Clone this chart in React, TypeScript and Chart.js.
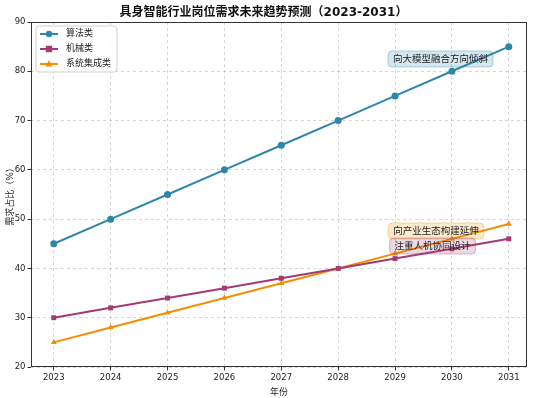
import React, { useEffect, useRef } from "react";
import { Chart, registerables } from "chart.js";

Chart.register(...registerables);

const years = [2023, 2024, 2025, 2026, 2027, 2028, 2029, 2030, 2031];
const algorithm = [45, 50, 55, 60, 65, 70, 75, 80, 85];
const mechanical = [30, 32, 34, 36, 38, 40, 42, 44, 46];
const integration = [25, 28, 31, 34, 37, 40, 43, 46, 49];
const seriesNames = ["算法类", "机械类", "系统集成类"];
const colors = ["#2E86AB", "#A23B72", "#F18F01"];
const markers = ["circle", "rect", "triangle"];
const yTicks = [20, 30, 40, 50, 60, 70, 80, 90];

const noteTexts = ["向大模型融合方向倾斜", "向产业生态构建延伸", "注重人机协同设计"];
const noteX = [2029.8, 2029.72, 2029.66];
const noteY = [82.5, 47.6, 44.55];
const noteFill = ["rgba(46,134,171,0.2)", "rgba(241,143,1,0.2)", "rgba(162,59,114,0.2)"];
const noteStroke = ["rgba(46,134,171,0.35)", "rgba(241,143,1,0.35)", "rgba(162,59,114,0.35)"];

const CJK = "'DejaVu Sans', 'Noto Sans CJK SC', sans-serif";

function roundRect(ctx: CanvasRenderingContext2D, x: number, y: number, w: number, h: number, r: number) {
  ctx.beginPath();
  ctx.moveTo(x + r, y);
  ctx.lineTo(x + w - r, y);
  ctx.quadraticCurveTo(x + w, y, x + w, y + r);
  ctx.lineTo(x + w, y + h - r);
  ctx.quadraticCurveTo(x + w, y + h, x + w - r, y + h);
  ctx.lineTo(x + r, y + h);
  ctx.quadraticCurveTo(x, y + h, x, y + h - r);
  ctx.lineTo(x, y + r);
  ctx.quadraticCurveTo(x, y, x + r, y);
  ctx.closePath();
}

function drawMarker(ctx: CanvasRenderingContext2D, kind: string, x: number, y: number, r: number, color: string) {
  ctx.fillStyle = color;
  ctx.beginPath();
  if (kind === "circle") {
    ctx.arc(x, y, r, 0, Math.PI * 2);
  } else if (kind === "rect") {
    ctx.rect(x - r, y - r, 2 * r, 2 * r);
  } else {
    ctx.moveTo(x, y - r * 1.2);
    ctx.lineTo(x + r * 1.1, y + r * 0.8);
    ctx.lineTo(x - r * 1.1, y + r * 0.8);
    ctx.closePath();
  }
  ctx.fill();
}

const decorPlugin = {
  id: "decor",
  afterDatasetsDraw(chart: any) {
    const ctx: CanvasRenderingContext2D = chart.ctx;
    const xs = chart.scales.x;
    const ys = chart.scales.y;
    ctx.save();
    ctx.font = `9.5px ${CJK}`;
    ctx.textAlign = "center";
    ctx.textBaseline = "middle";
    noteTexts.forEach((t, i) => {
      const cx = xs.getPixelForValue(noteX[i]);
      const cy = ys.getPixelForValue(noteY[i]);
      const w = ctx.measureText(t).width + 10;
      const h = 16;
      roundRect(ctx, cx - w / 2, cy - h / 2, w, h, 4);
      ctx.fillStyle = noteFill[i];
      ctx.fill();
      ctx.strokeStyle = noteStroke[i];
      ctx.lineWidth = 1;
      ctx.stroke();
      ctx.fillStyle = "#222";
      ctx.fillText(t, cx, cy + 0.5);
    });
    ctx.restore();
  },
  afterDraw(chart: any) {
    const ctx: CanvasRenderingContext2D = chart.ctx;
    const a = chart.chartArea;
    ctx.save();
    ctx.strokeStyle = "#333";
    ctx.lineWidth = 1;
    ctx.strokeRect(Math.round(a.left) + 0.5, Math.round(a.top) + 0.5, Math.round(a.right - a.left) - 1, Math.round(a.bottom - a.top) - 1);
    // legend
    const lx = a.left + 5;
    const ly = a.top + 4;
    const lw = 81;
    const lh = 46;
    roundRect(ctx, lx, ly, lw, lh, 3);
    ctx.fillStyle = "rgba(255,255,255,0.85)";
    ctx.fill();
    ctx.strokeStyle = "#d0d0d0";
    ctx.stroke();
    ctx.font = `9px ${CJK}`;
    ctx.textAlign = "left";
    ctx.textBaseline = "middle";
    seriesNames.forEach((n, i) => {
      const yy = ly + 8 + i * 15;
      ctx.strokeStyle = colors[i];
      ctx.lineWidth = 2;
      ctx.beginPath();
      ctx.moveTo(lx + 4, yy);
      ctx.lineTo(lx + 22, yy);
      ctx.stroke();
      drawMarker(ctx, markers[i], lx + 13, yy, 3.2, colors[i]);
      ctx.fillStyle = "#222";
      ctx.fillText(n, lx + 30, yy);
    });
    ctx.restore();
  },
};

export default function App() {
  const ref = useRef<HTMLCanvasElement | null>(null);
  useEffect(() => {
    if (!ref.current) return;
    const series = [algorithm, mechanical, integration];
    const gridOpts: any = {
      color: "rgba(0,0,0,0.2)",
      tickBorderDash: [],
      tickBorderDashOffset: 0,
      tickColor: "#333",
      tickWidth: 1,
      tickLength: 3.5,
      lineWidth: 0.8,
    };
    const chart = new Chart(ref.current, {
      type: "line",
      data: {
        datasets: series.map((s, i) => ({
          label: seriesNames[i],
          data: s.map((v, j) => ({ x: years[j], y: v })),
          borderColor: colors[i],
          backgroundColor: colors[i],
          borderWidth: 2,
          pointStyle: markers[i] as any,
          pointRadius: 3.5,
          pointBorderWidth: 0,
          tension: 0,
        })),
      },
      options: {
        responsive: false,
        animation: false,
        layout: { padding: { left: 0, right: 11, top: 0, bottom: 0 } },
        plugins: {
          legend: { display: false },
          tooltip: { enabled: false },
          title: {
            display: true,
            text: "具身智能行业岗位需求未来趋势预测（2023-2031）",
            color: "#111",
            font: { family: CJK, size: 12, weight: "bold" },
            padding: { top: 6, bottom: 1.6 },
          },
        },
        scales: {
          x: {
            type: "linear",
            min: 2022.6,
            max: 2031.32,
            afterBuildTicks: (scale: any) => {
              scale.ticks = years.map((v) => ({ value: v }));
            },
            afterFit: (scale: any) => {
              scale.height = 31;
            },
            ticks: {
              callback: (v: any) => String(v),
              color: "#222",
              font: { family: "'DejaVu Sans'", size: 8.5 },
              padding: 2,
              maxRotation: 0,
            },
            grid: gridOpts,
            border: { display: false, dash: [3, 3] },
            title: {
              display: true,
              text: "年份",
              color: "#222",
              font: { family: CJK, size: 9 },
              padding: { top: 0, bottom: 0 },
            },
          },
          y: {
            min: 20,
            max: 90,
            afterBuildTicks: (scale: any) => {
              scale.ticks = yTicks.map((v) => ({ value: v }));
            },
            afterFit: (scale: any) => {
              scale.width = 31;
            },
            ticks: {
              color: "#222",
              font: { family: "'DejaVu Sans'", size: 8.5 },
              padding: 2,
            },
            grid: gridOpts,
            border: { display: false, dash: [3, 3] },
            title: {
              display: true,
              text: "需求占比（%）",
              color: "#222",
              font: { family: CJK, size: 9 },
              padding: { top: 5, bottom: 0 },
            },
          },
        },
      },
      plugins: [decorPlugin],
    });
    return () => chart.destroy();
  }, []);
  return (
    <div style={{ position: "absolute", left: 0, top: 0, width: 538, height: 398, background: "#fff" }}>
      <canvas ref={ref} width={538} height={398} />
    </div>
  );
}
